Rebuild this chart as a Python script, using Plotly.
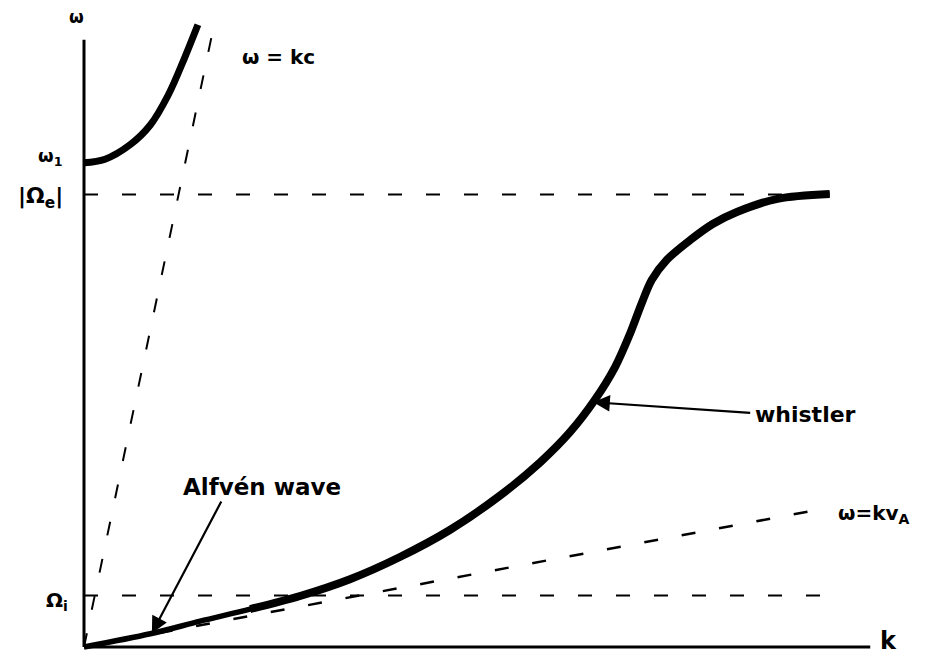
import plotly.graph_objects as go

# ---- data (schematic units: k horizontal, omega vertical) ----
K_UPPER = [0.0, 0.27, 0.59, 0.85, 1.08, 1.29, 1.46]
W_UPPER = [8.07, 8.13, 8.37, 8.70, 9.20, 9.82, 10.37]

K_WHISTLER = [0.0, 0.85, 1.49, 2.13, 2.77, 3.41, 4.05, 4.69, 5.33, 5.85, 6.23,
              6.55, 6.81, 7.00, 7.15, 7.28, 7.47, 7.77, 8.06, 8.37, 8.89, 9.56]
W_WHISTLER = [0.0, 0.22, 0.43, 0.63, 0.85, 1.13, 1.50, 1.95, 2.52, 3.08, 3.58,
              4.12, 4.67, 5.22, 5.73, 6.12, 6.45, 6.78, 7.05, 7.25, 7.47, 7.55]

OMEGA_E = 7.54      # |Omega_e|
OMEGA_I = 0.86      # Omega_i
C_SLOPE = 6.22      # omega = kc
VA_SLOPE = 0.243    # omega = k vA
K_KC_END = 1.64
K_KVA_END = 9.53
K_LEVEL_END = 9.58
K_MAX = 10.08
W_MAX = 10.12

FONT = "DejaVu Sans"

fig = go.Figure()

def line(xs, ys, width, dash=None, shape="linear", smoothing=1.0):
    fig.add_trace(go.Scatter(
        x=xs, y=ys, mode="lines", hoverinfo="skip", showlegend=False,
        line=dict(color="black", width=width, dash=dash, shape=shape,
                  smoothing=smoothing)))

dash = "14px,24px"
# axes
line([0, 0], [0, W_MAX], 3)
line([0, K_MAX], [0, 0], 3)
# dashed reference lines
line([0, K_LEVEL_END], [OMEGA_E, OMEGA_E], 2, dash)
line([0, K_LEVEL_END], [OMEGA_I, OMEGA_I], 2, dash)
line([0, K_KC_END], [0, C_SLOPE * K_KC_END], 2, dash)
line([0, K_KVA_END], [0, VA_SLOPE * K_KVA_END], 2.5, dash)
# dispersion curves (whistler thins toward the origin)
line(K_UPPER, W_UPPER, 7, shape="spline")
line(K_WHISTLER, W_WHISTLER, 5.5, shape="spline", smoothing=0.9)
line(K_WHISTLER[3:], W_WHISTLER[3:], 8, shape="spline", smoothing=0.9)

def label(x, y, text, size, xanchor="center"):
    fig.add_annotation(x=x, y=y, text=text, showarrow=False, xanchor=xanchor,
                       yanchor="middle",
                       font=dict(family=FONT, size=size, color="black", weight="bold"))

label(-0.09, 10.50, "ω", 17)
label(10.31, 0.10, "k", 24)
label(-0.44, 8.17, "ω<sub>1</sub>", 18)
label(-0.56, 7.50, "|Ω<sub>e</sub>|", 22)
label(-0.35, 0.77, "Ω<sub>i</sub>", 20)
label(2.49, 9.83, "ω = kc", 20)
label(8.58, 3.87, "whistler", 22, xanchor="left")
label(9.64, 2.22, "ω=kv<sub>A</sub>", 20, xanchor="left")
label(2.28, 2.67, "Alfvén wave", 23)

def arrow(x, y, ax, ay):
    fig.add_annotation(x=x, y=y, ax=ax, ay=ay, xref="x", yref="y",
                       axref="x", ayref="y", text="", showarrow=True,
                       arrowhead=2, arrowsize=1.5, arrowwidth=2.2, arrowcolor="black")

arrow(6.53, 4.08, 8.56, 3.90)
arrow(0.87, 0.23, 1.77, 2.45)

# page body has an 8px margin, so the origin sits at figure pixel (76, 639)
fig.update_layout(
    width=925, height=658,
    margin=dict(l=0, r=0, t=0, b=0, pad=0),
    paper_bgcolor="white", plot_bgcolor="white",
    xaxis=dict(range=[-76 / 78, 849 / 78], visible=False),
    yaxis=dict(range=[-19 / 60, 639 / 60], visible=False),
)

fig.write_html("out.html")
